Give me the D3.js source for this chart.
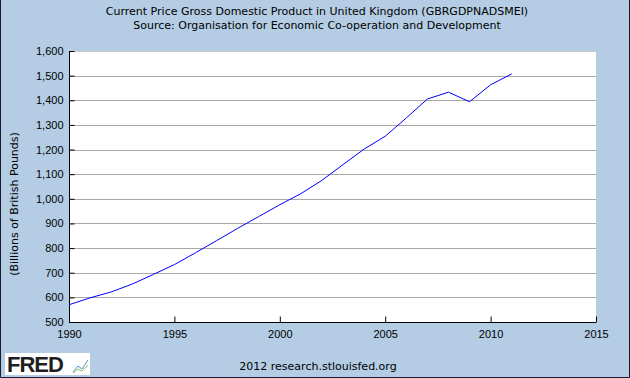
<!DOCTYPE html>
<html>
<head>
<meta charset="utf-8">
<script src="https://cdn.jsdelivr.net/npm/d3@7"></script>
<style>
  body { margin: 0; background: #b4cde4; }
  svg { display: block; font-family: "DejaVu Sans", Verdana, sans-serif; }
</style>
</head>
<body>
<div id="vis"></div>
<script>
// annual values, billions of GBP
var years = [1990, 1991, 1992, 1993, 1994, 1995, 1996, 1997, 1998, 1999, 2000,
  2001, 2002, 2003, 2004, 2005, 2006, 2007, 2008, 2009, 2010, 2011];
var gdp = [570, 598, 622, 654, 693, 733, 781, 830, 880, 928, 976,
  1021, 1075, 1139, 1202, 1254, 1328, 1405, 1433, 1394, 1463, 1507];
var yTicks = [500, 600, 700, 800, 900, 1000, 1100, 1200, 1300, 1400, 1500, 1600];
var xTicks = [1990, 1995, 2000, 2005, 2010, 2015];

var width = 630;
var height = 378;
var margin = {top: 51, left: 69, bottom: 56, right: 34};

var svg = d3.select('#vis').append('svg')
  .attr('width', width)
  .attr('height', height);

svg.append('rect')
  .attr('width', width)
  .attr('height', height)
  .attr('fill', '#b4cde4');

// dark frame on left, right and bottom
svg.append('path')
  .attr('d', 'M0.5,0V' + (height - 0.5) + 'H' + (width - 0.5) + 'V0')
  .attr('fill', 'none')
  .attr('stroke', '#1a1a2a');

var x = d3.scaleLinear()
  .domain([1990, 2015])
  .range([margin.left, width - margin.right]);

var y = d3.scaleLinear()
  .domain([500, 1600])
  .range([height - margin.bottom, margin.top]);

// plot background
svg.append('rect')
  .attr('x', x(1990))
  .attr('y', y(1600))
  .attr('width', x(2015) - x(1990))
  .attr('height', y(500) - y(1600))
  .attr('fill', '#fff');

// grid
svg.append('g')
  .selectAll('line')
  .data(yTicks.slice(1))
  .enter().append('line')
  .attr('x1', x(1990))
  .attr('x2', x(2015))
  .attr('y1', function(d) { return Math.round(y(d)) + 0.5; })
  .attr('y2', function(d) { return Math.round(y(d)) + 0.5; })
  .attr('stroke', function(d) { return d === 1600 ? '#c8c8c8' : '#a8a8a8'; })
  .attr('shape-rendering', 'crispEdges');

// y axis, short black ticks pointing inward
var yAxis = d3.axisLeft(y)
  .tickValues(yTicks)
  .tickSize(-5)
  .tickPadding(6)
  .tickFormat(d3.format(','));

var gy = svg.append('g')
  .attr('transform', 'translate(' + (Math.round(x(1990)) + 0.5) + ',0)')
  .call(yAxis);
gy.selectAll('text').attr('fill', '#000').style('font-size', '11px');
gy.selectAll('line, path').attr('stroke', '#000');
gy.select('.domain').attr('d', 'M0,' + y(1600) + 'V' + y(500));

// x axis, ticks point inward
var xAxis = d3.axisBottom(x)
  .tickValues(xTicks)
  .tickSize(-6)
  .tickPadding(4)
  .tickFormat(d3.format('d'));

var gx = svg.append('g')
  .attr('transform', 'translate(0,' + (Math.round(y(500)) + 0.5) + ')')
  .call(xAxis);
gx.selectAll('text').attr('fill', '#000').style('font-size', '11px').attr('dy', '1.05em');
gx.selectAll('line, path').attr('stroke', '#000');
gx.select('.domain').attr('d', 'M' + x(1990) + ',0H' + x(2015));

// series
var line = d3.line()
  .x(function(d, i) { return x(years[i]); })
  .y(function(d) { return y(d); });

svg.append('path')
  .datum(gdp)
  .attr('fill', 'none')
  .attr('stroke', '#0000ff')
  .attr('stroke-width', 1)
  .attr('d', line);

// titles
svg.append('text')
  .attr('x', 317)
  .attr('y', 15)
  .attr('text-anchor', 'middle')
  .style('font-size', '11px')
  .text('Current Price Gross Domestic Product in United Kingdom (GBRGDPNADSMEI)');

svg.append('text')
  .attr('x', 317)
  .attr('y', 29)
  .attr('text-anchor', 'middle')
  .style('font-size', '11px')
  .text('Source: Organisation for Economic Co-operation and Development');

svg.append('text')
  .attr('transform', 'translate(18,204) rotate(-90)')
  .attr('text-anchor', 'middle')
  .style('font-size', '11px')
  .text('(Billions of British Pounds)');

svg.append('text')
  .attr('x', 318)
  .attr('y', 370)
  .attr('text-anchor', 'middle')
  .style('font-size', '11px')
  .text('2012 research.stlouisfed.org');

// FRED logo
var logo = svg.append('g').attr('transform', 'translate(5,353)');
logo.append('rect')
  .attr('width', 85)
  .attr('height', 22)
  .attr('fill', '#fff');
logo.append('text')
  .attr('x', 2)
  .attr('y', 19)
  .style('font-size', '22px')
  .style('font-weight', 'bold')
  .style('font-family', '"Liberation Sans", Arial, sans-serif')
  .style('letter-spacing', '-1px')
  .attr('fill', '#1e1e1e')
  .text('FRED');
logo.append('path')
  .attr('d', 'M68,19L73,13L77,16L83,7')
  .attr('fill', 'none')
  .attr('stroke', '#5a8fd0');
logo.append('path')
  .attr('d', 'M68,20L73,16L77,18L83,12')
  .attr('fill', 'none')
  .attr('stroke', '#8cbf5a');
</script>
</body>
</html>
